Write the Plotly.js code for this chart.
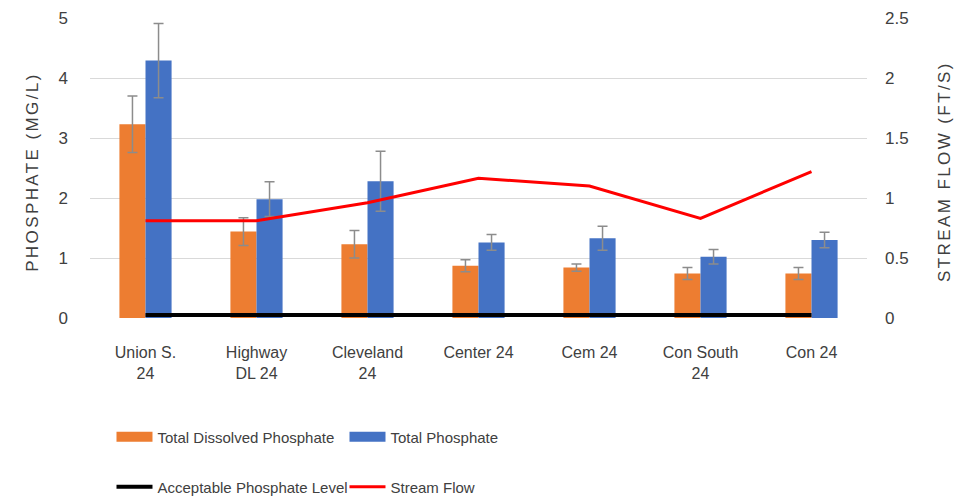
<!DOCTYPE html>
<html>
<head>
<meta charset="utf-8">
<script src="https://cdn.plot.ly/plotly-3.0.1.min.js"></script>
<style>
html,body{margin:0;padding:0;background:#fff;}
#chart{width:967px;height:499px;}
.annotation-text{letter-spacing:2.4px;}
</style>
</head>
<body>
<div id="chart"></div>
<script>
const categories = ["Union S.<br>24", "Highway<br>DL 24", "Cleveland<br>24", "Center 24", "Cem 24", "Con South<br>24", "Con 24"];
const dissolved = [3.23, 1.44, 1.23, 0.87, 0.84, 0.74, 0.74];
const dissolvedErr = [0.47, 0.23, 0.23, 0.10, 0.06, 0.10, 0.10];
const totalP = [4.29, 1.98, 2.28, 1.26, 1.33, 1.02, 1.30];
const totalPErr = [0.62, 0.29, 0.50, 0.13, 0.20, 0.12, 0.13];
const acceptable = [0.05, 0.05, 0.05, 0.05, 0.05, 0.05, 0.05];
const streamFlow = [0.81, 0.81, 0.96, 1.165, 1.10, 0.83, 1.22];
const leftTicks = [0, 1, 2, 3, 4, 5];
const rightTicks = [0, 0.5, 1, 1.5, 2, 2.5];
const rightTickText = ["0", "0.5", "1", "1.5", "2", "2.5"];

const FONT = "'Liberation Sans', Arial, sans-serif";
const TXT = "#404040";
const FS = 16;
const errStyle = {type: "data", color: "#8c8c8c", thickness: 1.5, width: 5};

const traces = [
  {type: "bar", name: "Total Dissolved Phosphate", x: categories, y: dissolved, showlegend: false,
   marker: {color: "#ED7D31"}, error_y: Object.assign({array: dissolvedErr}, errStyle)},
  {type: "bar", name: "Total Phosphate", x: categories, y: totalP, showlegend: false,
   marker: {color: "#4472C4"}, error_y: Object.assign({array: totalPErr}, errStyle)},
  // legend swatches for the two bar series (wide rectangles as in the original)
  {type: "scatter", mode: "lines", name: "Total Dissolved Phosphate", x: [categories[0]], y: [null],
   line: {color: "#ED7D31", width: 13}, legend: "legend", hoverinfo: "skip"},
  {type: "scatter", mode: "lines", name: "Total Phosphate", x: [categories[0]], y: [null],
   line: {color: "#4472C4", width: 13}, legend: "legend", hoverinfo: "skip"},
  {type: "scatter", mode: "lines", name: "Acceptable Phosphate Level", x: categories, y: acceptable,
   line: {color: "#000000", width: 4}, legend: "legend2"},
  {type: "scatter", mode: "lines", name: "Stream Flow", x: categories, y: streamFlow, yaxis: "y2",
   line: {color: "#FF0000", width: 3}, legend: "legend2"}
];

const legendCommon = {
  orientation: "h", xref: "container", yref: "container", x: 0.1153, xanchor: "left", yanchor: "middle",
  font: {family: FONT, size: 15, color: TXT}, entrywidth: 182, entrywidthmode: "pixels",
  itemwidth: 36, bgcolor: "rgba(0,0,0,0)", traceorder: "normal"
};

const layout = {
  width: 967, height: 499,
  margin: {l: 90, r: 100, t: 18, b: 181},
  paper_bgcolor: "#ffffff", plot_bgcolor: "#ffffff",
  font: {family: FONT, size: FS, color: TXT},
  barmode: "group", bargap: 0.53, bargroupgap: 0,
  showlegend: true,
  legend: Object.assign({}, legendCommon, {y: 0.1242}),
  legend2: Object.assign({}, legendCommon, {y: 0.024}),
  xaxis: {type: "category", showgrid: false, showline: false, zeroline: false, ticks: "", automargin: false,
          tickfont: {family: FONT, size: FS, color: TXT}, ticklabelstandoff: 23, fixedrange: true},
  yaxis: {range: [0, 5], tickvals: leftTicks, showgrid: true, gridcolor: "#d9d9d9", gridwidth: 1, automargin: false,
          zeroline: false, showline: false, ticks: "", ticklabelstandoff: 21,
          tickfont: {family: FONT, size: 17, color: TXT}},
  yaxis2: {range: [0, 2.5], tickvals: rightTicks, ticktext: rightTickText, overlaying: "y", side: "right", automargin: false,
           showgrid: false, zeroline: false, showline: false, ticks: "", ticklabelstandoff: 17,
           tickfont: {family: FONT, size: 17, color: TXT}},
  annotations: [
    {text: "PHOSPHATE (MG/L)", xref: "paper", yref: "paper", x: -0.0734, y: 0.487, textangle: -90,
     showarrow: false, xanchor: "center", yanchor: "middle", font: {family: FONT, size: 17, color: TXT}},
    {text: "STREAM FLOW (FT/S)", xref: "paper", yref: "paper", x: 1.1004, y: 0.487, textangle: -90,
     showarrow: false, xanchor: "center", yanchor: "middle", font: {family: FONT, size: 17, color: TXT}}
  ]
};

Plotly.newPlot("chart", traces, layout, {displayModeBar: false, staticPlot: true});
</script>
</body>
</html>
